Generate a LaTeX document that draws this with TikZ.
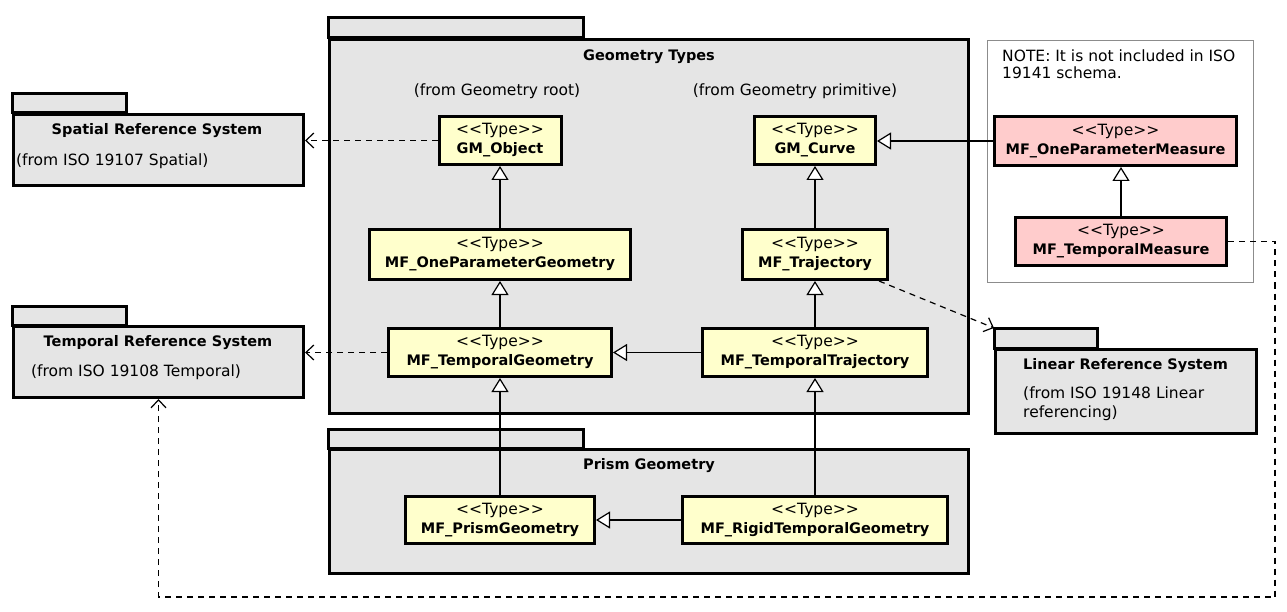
\documentclass[tikz,border=0pt]{standalone}
\usepackage{fontspec}
\setmainfont[Ligatures=TeXOff]{DejaVu Sans}
\usetikzlibrary{arrows.meta}

\definecolor{pkggray}{HTML}{E5E5E5}
\definecolor{typeyellow}{HTML}{FFFFCC}
\definecolor{measurepink}{HTML}{FFCCCC}
\definecolor{notegray}{HTML}{8C8C8C}

\tikzset{
  pkg/.style={draw,line width=3pt,fill=pkggray,inner sep=0pt},
  notebox/.style={draw=notegray,line width=1pt,fill=white,inner sep=0pt},
  typebox/.style={draw,line width=3pt,fill=typeyellow,align=center,inner sep=1pt,minimum height=48pt},
  measure/.style={typebox,fill=measurepink},
  inherit/.style={line width=1.2pt,-{Triangle[length=14pt,width=17pt,fill=white,line width=1.2pt]}},
  depend/.style={line width=1.2pt,dash pattern=on 6pt off 5pt,-{Straight Barb[length=8pt,width=15pt,line width=1.2pt]}},
  pkgtext/.style={inner sep=0pt}
}
\newcommand{\bname}[1]{{\fontsize{14.5}{19}\selectfont\bfseries #1}}
\newcommand{\stype}[1]{<<Type>>\\\bname{#1}}

\begin{document}
\begin{tikzpicture}[x=1pt,y=-1pt,font=\fontsize{15.5}{19}\selectfont]
   \useasboundingbox (0,0) rectangle (1287,612);
   % packages
   \node[pkg,minimum width=290,minimum height=71] (srs) at (158.5,150) {};
   \draw[pkg] (srs.north west) rectangle ++(114,-19);
   \node[pkgtext] (srstitle) at (157,131) {\bname{Spatial Reference System}};
   \node[pkgtext,anchor=west] (srsfrom) at (16,161) {(from ISO 19107 Spatial)};

   \node[pkg,minimum width=290,minimum height=71] (trs) at (158.5,362) {};
   \draw[pkg] (trs.north west) rectangle ++(114,-19);
   \node[pkgtext] (trstitle) at (158,343) {\bname{Temporal Reference System}};
   \node[pkgtext,anchor=west] (trsfrom) at (31,372) {(from ISO 19108 Temporal)};

   \node[pkg,minimum width=639,minimum height=374] (gt) at (649,226.5) {};
   \draw[pkg] (gt.north west) rectangle ++(255,-20);
   \node[pkgtext] (gttitle) at (649,57) {\bname{Geometry Types}};
   \node[pkgtext] (gtroot) at (497,91) {(from Geometry root)};
   \node[pkgtext] (gtprim) at (795,91) {(from Geometry primitive)};

   \node[pkg,minimum width=639,minimum height=124] (pg) at (649,511.5) {};
   \draw[pkg] (pg.north west) rectangle ++(255,-19);
   \node[pkgtext] (pgtitle) at (649,466) {\bname{Prism Geometry}};

   \node[pkg,minimum width=261,minimum height=84] (lrs) at (1126,391.5) {};
   \draw[pkg] (lrs.north west) rectangle ++(103,-20);
   \node[pkgtext,anchor=west] (lrstitle) at (1023,366) {\bname{Linear Reference System}};
   \node[pkgtext,anchor=west,align=left] (lrsfrom) at (1023,403.5) {(from ISO 19148 Linear\\referencing)};

   \node[notebox,minimum width=266,minimum height=242] (note) at (1120.5,161.5) {};
   \node[pkgtext,anchor=west,align=left,font=\fontsize{15.5}{17}\selectfont] (notetext) at (1002,64) {NOTE: It is not included in ISO\\19141 schema.};

   % types
   \node[typebox,minimum width=122] (gmobj) at (500,140.5) {\stype{GM\_Object}};
   \node[typebox,minimum width=121] (gmcurve) at (815,140.5) {\stype{GM\_Curve}};
   \node[typebox,minimum width=261,minimum height=50] (opgeo) at (500,254.5) {\stype{MF\_OneParameterGeometry}};
   \node[typebox,minimum width=145,minimum height=50] (traj) at (815,254.5) {\stype{MF\_Trajectory}};
   \node[typebox,minimum width=223] (tgeo) at (500,352.5) {\stype{MF\_TemporalGeometry}};
   \node[typebox,minimum width=225] (ttraj) at (815,352.5) {\stype{MF\_TemporalTrajectory}};
   \node[typebox,minimum width=189,minimum height=47] (prism) at (500,520) {\stype{MF\_PrismGeometry}};
   \node[typebox,minimum width=265,minimum height=47] (rigid) at (815,520) {\stype{MF\_RigidTemporalGeometry}};
   \node[measure,minimum width=242,minimum height=49] (opm) at (1115.5,141) {\stype{MF\_OneParameterMeasure}};
   \node[measure,minimum width=211] (tm) at (1121,241.5) {\stype{MF\_TemporalMeasure}};

   % generalizations
   \draw[inherit] (opgeo) -- (gmobj);
   \draw[inherit] (tgeo) -- (opgeo);
   \draw[inherit] (traj) -- (gmcurve);
   \draw[inherit] (ttraj) -- (traj);
   \draw[inherit] (ttraj) -- (tgeo);
   \draw[inherit] (prism) -- (tgeo);
   \draw[inherit] (rigid) -- (ttraj);
   \draw[inherit] (rigid) -- (prism);
   \draw[inherit] (opm.west) -- (opm.west -| gmcurve.east);
   \draw[inherit] (tm.north) -- (tm.north |- opm.south);

   % dependencies
   \coordinate (loop) at (1275,597);
   \draw[depend] (gmobj.west) -- (gmobj.west -| srs.east);
   \draw[depend] (tgeo.west) -- (tgeo.west -| trs.east);
   \draw[depend] ([xshift=-10pt]traj.south east) -- ([yshift=20pt]lrs.north west);
   \draw[depend] (tm.east) -| (loop) -| (trs.south);
\end{tikzpicture}
\end{document}
